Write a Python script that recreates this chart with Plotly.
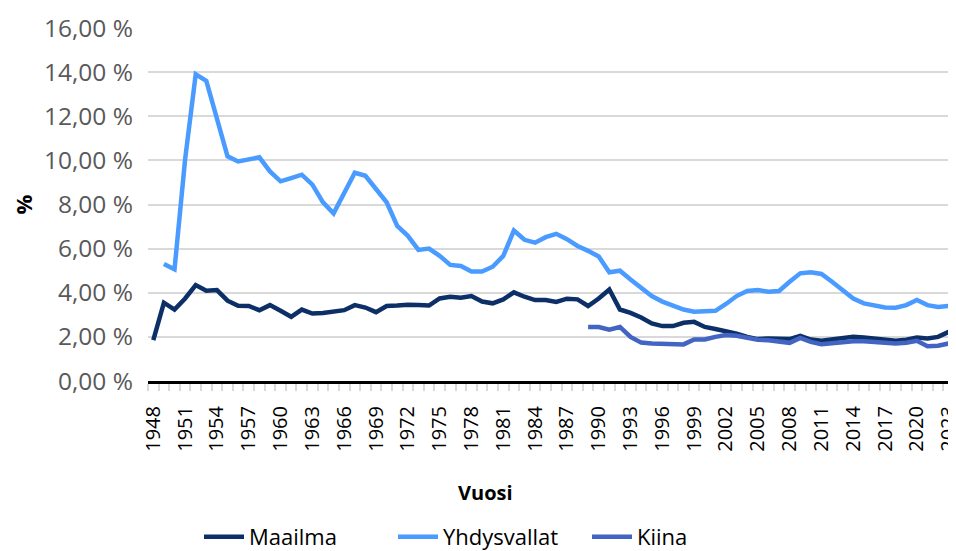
import plotly.graph_objects as go

years = list(range(1948, 2024))

maailma = [1.85, 3.55, 3.24, 3.74, 4.35, 4.09, 4.12, 3.64, 3.41, 3.40,
           3.21, 3.44, 3.18, 2.91, 3.24, 3.06, 3.08, 3.12, 3.21, 3.44,
           3.33, 3.12, 3.40, 3.42, 3.46, 3.44, 3.42, 3.74, 3.82, 3.77,
           3.85, 3.60, 3.52, 3.70, 4.02, 3.82, 3.67, 3.67, 3.58, 3.73,
           3.70, 3.40, 3.74, 4.15, 3.24, 3.09, 2.88, 2.61, 2.49, 2.49,
           2.64, 2.68, 2.45, 2.36, 2.27, 2.15, 2.00, 1.90, 1.93, 1.93,
           1.90, 2.05, 1.88, 1.82, 1.87, 1.90, 2.00, 1.97, 1.93, 1.88,
           1.82, 1.87, 1.97, 1.93, 2.00, 2.23]

yhdysvallat = [None, 5.30, 5.06, 10.05, 13.90, 13.60, 11.80, 10.18, 9.95, 10.03,
               10.14, 9.50, 9.05, 9.20, 9.35, 8.90, 8.10, 7.60, 8.50, 9.44,
               9.30, 8.70, 8.10, 7.03, 6.58, 5.94, 6.00, 5.67, 5.26, 5.21,
               4.96, 4.96, 5.18, 5.67, 6.82, 6.40, 6.27, 6.52, 6.67, 6.43,
               6.12, 5.90, 5.64, 4.93, 5.00, 4.60, 4.20, 3.85, 3.60, 3.44,
               3.24, 3.14, 3.14, 3.18, 3.49, 3.85, 4.08, 4.12, 4.05, 4.08,
               4.50, 4.88, 4.93, 4.85, 4.50, 4.09, 3.74, 3.52, 3.44, 3.33,
               3.32, 3.44, 3.67, 3.44, 3.36, 3.40]

kiina = [None] * 41 + [
    2.45, 2.45, 2.33, 2.45, 2.00, 1.74, 1.70, 1.67, 1.65, 1.66,
    1.88, 1.88, 2.00, 2.08, 2.05, 1.97, 1.87, 1.85, 1.77, 1.73,
    1.95, 1.77, 1.67, 1.73, 1.74, 1.80, 1.80, 1.77, 1.73, 1.70,
    1.73, 1.82, 1.58, 1.60, 1.70]

ytick_vals = [0, 2, 4, 6, 8, 10, 12, 14, 16]
ytick_text = ["0,00 %", "2,00 %", "4,00 %", "6,00 %", "8,00 %",
              "10,00 %", "12,00 %", "14,00 %", "16,00 %"]
xtick_vals = list(range(1948, 2024, 3))

FONT = "Open Sans"

fig = go.Figure()
fig.add_trace(go.Scatter(x=years, y=maailma, name="Maailma", mode="lines",
                         line=dict(color="#0b2f66", width=4.5)))
fig.add_trace(go.Scatter(x=years, y=yhdysvallat, name="Yhdysvallat", mode="lines",
                         line=dict(color="#4a9bff", width=4.5)))
fig.add_trace(go.Scatter(x=years, y=kiina, name="Kiina", mode="lines",
                         line=dict(color="#4264c2", width=4.5)))

# page body has an 8px default margin, so the figure is offset by 8px
L, R, T, B = 140, 10, 20, 178
PW = 956 - L - R
PH = 551 - T - B

fig.update_layout(
    width=956, height=551,
    margin=dict(l=L, r=R, t=T, b=B),
    paper_bgcolor="white", plot_bgcolor="white",
    font=dict(family=FONT, color="#595959"),
    showlegend=True,
    legend=dict(orientation="h", xref="container", yref="container",
                x=482 / 956, xanchor="center", y=1 - 529 / 551, yanchor="middle",
                font=dict(size=22, color="#000000", family=FONT),
                entrywidth=139, entrywidthmode="pixels",
                itemwidth=40, tracegroupgap=0),
    xaxis=dict(range=[1947.5, 2023.5], tickmode="array", tickvals=xtick_vals,
               ticktext=[str(v) for v in xtick_vals], tickangle=-90,
               tickfont=dict(size=20, color="#000000", family=FONT),
               ticks="", showgrid=False, zeroline=False, automargin=False,
               ticklabelstandoff=14,
               showline=True, linecolor="#000000", linewidth=3,
               minor=dict(ticks="outside", tick0=1947.5, dtick=1, ticklen=7,
                          tickcolor="#d9d9d9", tickwidth=1.5, showgrid=False),
               fixedrange=True),
    yaxis=dict(range=[0, 16], tickmode="array", tickvals=ytick_vals,
               ticktext=ytick_text, tickfont=dict(size=24.5, color="#595959", family=FONT),
               ticks="", ticklabelstandoff=14, automargin=False,
               showgrid=True, gridcolor="#d9d9d9", gridwidth=1.5,
               zeroline=False, showline=False,
               fixedrange=True),
    annotations=[
        dict(text="<b>Vuosi</b>", xref="paper", yref="paper",
             x=(477 - L) / PW, y=-(484 - (551 - B)) / PH, xanchor="center", yanchor="middle",
             showarrow=False, font=dict(size=20, color="#000000", family=FONT)),
        dict(text="<b>%</b>", xref="paper", yref="paper", textangle=-90,
             x=-(L - 14) / PW, y=0.5, xanchor="center", yanchor="middle",
             showarrow=False, font=dict(size=22, color="#000000", family=FONT)),
    ],
)

fig.write_html("out.html")
